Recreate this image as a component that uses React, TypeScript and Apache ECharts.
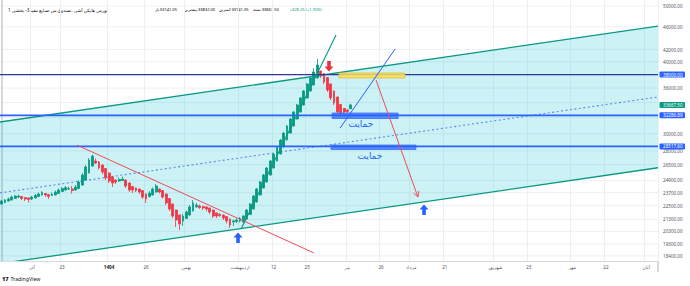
import React, { useEffect, useRef } from "react";
import * as echarts from "echarts";

const FONT = '"Noto Sans", "DejaVu Sans", sans-serif';
const UP = "#089981";
const DOWN = "#f23645";
const BLUE = "#2962ff";
const TEXT = "#50535e";

const SLOT_COUNT = 196;

// Heikin-Ashi daily candles
const haOpen = [22650,22780,22920,23010,23150,23290,23340,23240,23200,23100,23200,23340,23480,23620,23520,23430,23480,23620,23810,23950,24050,24050,23950,24090,24430,24930,25640,26360,26900,26790,26470,26100,25640,25230,24930,24830,24880,24930,24630,24290,24140,24050,23900,23570,23340,23480,23760,24050,23900,23570,23150,22650,22110,21670,21160,21370,21670,22020,22380,22470,22420,22380,22290,22110,21850,21710,21670,21540,21330,21070,21110,21160,21070,21330,21710,22200,22830,23480,24140,24730,25430,26150,26900,27660,28450,29250,30080,30940,31820,32720,33650,34610,35590,36450,37490,38550,38170,37560,36600,35590,34740,33720,33180,32980,33141.05];
const haClose = [22920,23010,23100,23290,23380,23380,23150,23100,23060,23290,23430,23570,23710,23480,23340,23570,23760,23950,24090,24190,24090,23900,24240,24730,25430,26260,27000,27440,26680,26150,25740,25130,24830,24630,24730,24980,25030,24340,23950,23950,23900,23760,23290,23100,23660,24050,24340,23760,23290,22740,22200,21580,21240,20900,21580,21930,22380,22740,22560,22330,22290,22200,21930,21580,21580,21630,21410,21160,20820,21160,21240,21370,21580,22110,22650,23380,24050,24730,25430,26150,26900,27660,28450,29250,30080,30940,31820,32720,33650,34610,35590,36600,37490,38400,39490,37790,36890,35730,34610,33920,32720,32590,32720,32790,33667.5];
const haLow = [22560,22740,22870,22970,23100,23200,23010,22920,22780,23010,23150,23290,23430,23290,23100,23380,23430,23570,23760,23900,23950,23620,23900,24050,24390,24880,25580,26310,26580,26000,25530,24930,24630,24240,24530,24730,24830,24140,23760,23660,23760,23570,23100,22740,23240,23430,23710,23620,23150,22560,22020,21410,20660,20410,20740,21330,21630,21980,22330,22200,22110,22020,21760,21410,21410,21500,21240,20950,20570,20740,20990,21030,20990,21280,21670,22150,22780,23430,24090,24680,25380,26100,26840,27600,28390,29200,30020,30880,31750,32660,33580,34540,35520,36380,37410,37490,36600,35450,34330,33650,32460,32200,32460,32590,33141.05];
const haHigh = [23010,23100,23240,23430,23480,23520,23380,23290,23240,23380,23570,23710,23850,23660,23570,23710,23900,24090,24240,24340,24290,24340,24430,24880,25640,26470,27220,27600,27170,26900,26520,26150,25690,25280,24980,25180,25280,24980,24680,24340,24190,24090,23950,23620,23850,24190,24530,24090,23950,23620,23200,22690,22150,21710,21760,22060,22560,23010,22740,22600,22470,22420,22330,22150,21890,21850,21710,21580,21370,21280,21370,21500,21670,22200,22740,23480,24140,24830,25530,26260,27000,27770,28560,29370,30210,31060,31940,32850,33790,34740,35730,36750,37790,39020,40450,38630,38240,37640,36670,35660,34810,33790,33250,33050,33832];

// time axis ticks (slot index -> label)
const xTickIndex = [9, 18, 32, 43, 55, 71, 81, 91, 103, 113, 122, 132, 147, 157, 170, 180, 192];
const xTickLabel = ["آذر", "23", "1404", "26", "بهمن", "اردیبهشت", "12", "25", "تیر", "26", "مرداد", "21", "شهریور", "23", "مهر", "22", "آبان"];

// price scale ticks
const yTickPrice = [50000, 46000, 42000, 40000, 38000, 36000, 34000, 32000, 30000, 28000, 26500, 24900, 23700, 22500, 21300, 20300, 19300, 18400];
const yTickHidden = [34000, 32000, 38000];
const yAxisMinPrice = 18030;
const yAxisMaxPrice = 51215;

// horizontal levels and last price
const levelPrice = [38000, 32286.89, 28517.6];
const lastPrice = 33667.5;

// parallel channel (slot index, price)
const channelX = [-0.5, 195.5];
const channelUpper = [31440, 46140];
const channelMid = [23680, 34750];
const channelLower = [17840, 26180];

// trend lines
const redTrendX = [22.4, 93.0];
const redTrendP = [28670, 18620];
const rallyTrendX = [71.3, 99.6];
const rallyTrendP = [20490, 44520];
const blueTrendX = [100.8, 117.2];
const blueTrendP = [30690, 42100];
const arrowTrendX = [111.5, 124.0];
const arrowTrendP = [37190, 23290];

// zones
const yellowBoxX = [100.5, 120.1];
const yellowBoxP = [38240, 37490];
const supportBox1X = [98.4, 118.1];
const supportBox1P = [32590, 31880];
const supportBox2X = [98.1, 123.4];
const supportBox2P = [28670, 28170];
const supportLabelX = [107.0, 109.7];
const supportLabelP = [31250, 27550];
const supportText = "حمایت";

// arrow marks
const downArrowX = [97.5];
const downArrowP = [39330];
const upArrowX = [70.4, 125.8];
const upArrowP = [19770, 22110];

// legend
const legendTitle = "بورس هایکن آشی ،صندوق س صنایع مفید3- بخشی 1";
const legendFields = ["باز", "بیشترین", "کمترین", "بسته"];
const legendValues = ["33141.05", "33832.00", "33141.05", "33667.50"];
const legendChange = "+626.25 (+1.90%)";

const ln = Math.log;

function App() {
  const ref = useRef<HTMLDivElement>(null);

  useEffect(() => {
    const chart = echarts.init(ref.current as HTMLDivElement, null, { renderer: "svg" });
    const tickSet = new Set(xTickIndex);
    const labelMap: Record<number, string> = {};
    xTickIndex.forEach((idx, k) => (labelMap[idx] = xTickLabel[k]));
    const categories = Array.from({ length: SLOT_COUNT }, (_, i) => String(i));

    const candleData = haOpen.map((o, i) => [ln(o), ln(haClose[i]), ln(haLow[i]), ln(haHigh[i])]);

    const gridRender = (params: any, api: any) => {
      const cs = params.coordSys;
      return {
        type: "group",
        children: yTickPrice.map((p) => {
          const y = api.coord([0, ln(p)])[1];
          return {
            type: "line",
            shape: { x1: cs.x, y1: y, x2: cs.x + cs.width, y2: y },
            style: { stroke: "#eceff4", lineWidth: 1 },
          };
        }),
      };
    };

    const seg = (api: any, xs: number[], ps: number[]) => {
      const a = api.coord([xs[0], ln(ps[0])]);
      const b = api.coord([xs[1], ln(ps[1])]);
      return { x1: a[0], y1: a[1], x2: b[0], y2: b[1] };
    };

    const clipOf = (cs: any) => ({
      type: "rect",
      shape: { x: cs.x, y: cs.y, width: cs.width, height: cs.height },
    });

    const channelRender = (params: any, api: any) => {
      const cs = params.coordSys;
      const pt = (x: number, p: number) => api.coord([x, ln(p)]);
      const u0 = pt(channelX[0], channelUpper[0]);
      const u1 = pt(channelX[1], channelUpper[1]);
      const l0 = pt(channelX[0], channelLower[0]);
      const l1 = pt(channelX[1], channelLower[1]);
      return {
        type: "group",
        clipPath: clipOf(cs),
        children: [
          { type: "polygon", shape: { points: [u0, u1, l1, l0] }, style: { fill: "rgba(0,188,212,0.2)" } },
          { type: "line", shape: seg(api, channelX, channelMid), style: { stroke: "#5b86f0", lineWidth: 1.1, lineDash: [2, 2.5] } },
          { type: "line", shape: seg(api, channelX, channelUpper), style: { stroke: UP, lineWidth: 1.3 } },
          { type: "line", shape: seg(api, channelX, channelLower), style: { stroke: UP, lineWidth: 1.3 } },
        ],
      };
    };

    const arrowPoly = (cx: number, cy: number, dir: number) => {
      const pts = [
        [0, -5.5],
        [4.5, -0.5],
        [1.8, -0.5],
        [1.8, 5],
        [-1.8, 5],
        [-1.8, -0.5],
        [-4.5, -0.5],
      ];
      return pts.map(([x, y]) => [cx + x, cy + y * dir]);
    };

    const drawRender = (params: any, api: any) => {
      const cs = params.coordSys;
      const children: any[] = [];
      const box = (xs: number[], ps: number[], fill: string, stroke: string) => {
        const a = api.coord([xs[0], ln(ps[0])]);
        const b = api.coord([xs[1], ln(ps[1])]);
        children.push({
          type: "rect",
          shape: { x: a[0], y: a[1], width: b[0] - a[0], height: b[1] - a[1] },
          style: { fill, stroke, lineWidth: 0.8 },
        });
      };
      levelPrice.forEach((p, k) => {
        const y = api.coord([0, ln(p)])[1];
        children.push({
          type: "line",
          shape: { x1: cs.x, y1: y, x2: cs.x + cs.width, y2: y },
          style: { stroke: k === 0 ? "#2b3a9e" : BLUE, lineWidth: k === 0 ? 1.1 : 1.8 },
        });
      });
      box(yellowBoxX, yellowBoxP, "rgba(250,222,90,0.85)", "#e6bd2e");
      box(supportBox1X, supportBox1P, "rgba(41,98,255,0.72)", "#3b6ef5");
      box(supportBox2X, supportBox2P, "rgba(41,98,255,0.72)", "#3b6ef5");
      children.push({ type: "line", shape: seg(api, redTrendX, redTrendP), style: { stroke: "#f04a55", lineWidth: 1 } });
      children.push({ type: "line", shape: seg(api, rallyTrendX, rallyTrendP), style: { stroke: UP, lineWidth: 1.1 } });
      children.push({ type: "line", shape: seg(api, blueTrendX, blueTrendP), style: { stroke: BLUE, lineWidth: 1 } });
      const ar = seg(api, arrowTrendX, arrowTrendP);
      children.push({ type: "line", shape: ar, style: { stroke: "#f04a55", lineWidth: 1 } });
      const ang = Math.atan2(ar.y2 - ar.y1, ar.x2 - ar.x1);
      const len = 6;
      const arm = (s: number) => [ar.x2 - len * Math.cos(ang + s), ar.y2 - len * Math.sin(ang + s)];
      children.push({
        type: "polyline",
        shape: { points: [arm(0.5), [ar.x2, ar.y2], arm(-0.5)] },
        style: { stroke: "#f04a55", lineWidth: 1, fill: null },
      });
      supportLabelX.forEach((x, k) => {
        const c = api.coord([x, ln(supportLabelP[k])]);
        children.push({
          type: "text",
          x: c[0],
          y: c[1],
          style: { text: supportText, fill: BLUE, fontSize: 9, fontFamily: FONT, align: "center", verticalAlign: "middle" },
        });
      });
      downArrowX.forEach((x, k) => {
        const c = api.coord([x, ln(downArrowP[k])]);
        children.push({ type: "polygon", shape: { points: arrowPoly(c[0], c[1], -1) }, style: { fill: "#e8323c" } });
      });
      upArrowX.forEach((x, k) => {
        const c = api.coord([x, ln(upArrowP[k])]);
        children.push({ type: "polygon", shape: { points: arrowPoly(c[0], c[1], 1) }, style: { fill: BLUE } });
      });
      return { type: "group", clipPath: clipOf(cs), children };
    };

    const labelRender = (params: any, api: any) => {
      const cs = params.coordSys;
      const right = cs.x + cs.width;
      const children: any[] = [];
      yTickPrice
        .filter((p) => yTickHidden.indexOf(p) < 0)
        .forEach((p) => {
          const y = api.coord([0, ln(p)])[1];
          children.push({
            type: "text",
            x: right + 5,
            y,
            style: { text: p.toFixed(2), fill: TEXT, fontSize: 4.6, fontFamily: FONT, align: "left", verticalAlign: "middle" },
          });
        });
      const tag = (p: number, color: string) => {
        const y = api.coord([0, ln(p)])[1];
        children.push({ type: "rect", shape: { x: right + 1.5, y: y - 3, width: 25.5, height: 6, r: 1 }, style: { fill: color } });
        children.push({
          type: "text",
          x: right + 5,
          y,
          style: { text: p.toFixed(2), fill: "#ffffff", fontSize: 4.6, fontFamily: FONT, align: "left", verticalAlign: "middle" },
        });
      };
      tag(levelPrice[0], BLUE);
      tag(lastPrice, UP);
      tag(levelPrice[1], BLUE);
      tag(levelPrice[2], BLUE);
      return { type: "group", children };
    };

    const pairX = [155, 184, 219, 253];
    const legendRich = {
      l: { fontSize: 4, color: "#131722", fontFamily: FONT, padding: [0, 0.6, 0, 0] },
      v: { fontSize: 4, color: UP, fontFamily: FONT },
    };
    const graphics: any[] = [
      { type: "text", left: 8, top: 7, style: { text: legendTitle, fill: "#131722", fontSize: 4.6, fontFamily: FONT } },
      { type: "text", left: 290, top: 7, style: { text: legendChange, fill: UP, fontSize: 4, fontFamily: FONT } },
      { type: "text", left: 10.5, top: 276, style: { text: "TradingView", fill: "#131722", fontSize: 5.2, fontFamily: FONT } },
      { type: "text", left: 2, top: 275.5, style: { text: "17", fill: "#131722", fontSize: 5.6, fontWeight: 900, fontFamily: FONT } },
      { type: "line", shape: { x1: 658, y1: 261, x2: 658, y2: 272 }, style: { stroke: "#d6d8dd", lineWidth: 2 } },
    ];
    legendFields.forEach((f, k) => {
      graphics.push({
        type: "text",
        left: pairX[k],
        top: 7,
        style: { text: "{l|" + f + "}{v|" + legendValues[k] + "}", rich: legendRich, fontSize: 4, fontFamily: FONT },
      });
    });

    chart.setOption({
      animation: false,
      backgroundColor: "#ffffff",
      textStyle: { fontFamily: FONT },
      grid: { left: 0, right: 32, top: 0, bottom: 25 },
      xAxis: [
        {
          type: "category",
          data: categories,
          boundaryGap: true,
          axisLine: { show: true, lineStyle: { color: "#d6d8dd", width: 1 } },
          axisTick: { show: false },
          axisLabel: {
            interval: (i: number) => tickSet.has(i),
            formatter: (_v: string, i: number) => (labelMap[i] === "1404" ? "{b|1404}" : labelMap[i] || ""),
            fontSize: 4.6,
            color: TEXT,
            margin: 3,
            fontFamily: FONT,
            rich: { b: { fontSize: 4.6, fontWeight: "bold", color: "#131722", fontFamily: FONT } },
          },
          splitLine: { show: true, interval: (i: number) => tickSet.has(i), lineStyle: { color: "#eceff4", width: 1 } },
        },
        { type: "value", min: -0.5, max: SLOT_COUNT - 0.5, show: false },
      ],
      yAxis: {
        type: "value",
        position: "right",
        min: ln(yAxisMinPrice),
        max: ln(yAxisMaxPrice),
        axisLabel: { show: false },
        axisTick: { show: false },
        splitLine: { show: false },
        axisLine: { show: true, lineStyle: { color: "#d6d8dd", width: 2 } },
      },
      graphic: graphics,
      series: [
        { type: "custom", xAxisIndex: 1, yAxisIndex: 0, z: 0, silent: true, data: [[0, 10]], renderItem: gridRender },
        { type: "custom", xAxisIndex: 1, yAxisIndex: 0, z: 1, silent: true, data: [[0, 10]], renderItem: channelRender },
        {
          type: "candlestick",
          xAxisIndex: 0,
          yAxisIndex: 0,
          z: 2,
          barWidth: 2.3,
          data: candleData,
          itemStyle: { color: UP, color0: DOWN, borderColor: UP, borderColor0: DOWN, borderWidth: 0.8 },
        },
        { type: "custom", xAxisIndex: 1, yAxisIndex: 0, z: 3, silent: true, data: [[0, 10]], renderItem: drawRender },
        { type: "custom", xAxisIndex: 1, yAxisIndex: 0, z: 4, silent: true, data: [[0, 10]], renderItem: labelRender },
      ],
    });
    return () => chart.dispose();
  }, []);

  return (
    <div
      ref={ref}
      style={{ position: "fixed", left: 0, top: 0, width: 690, height: 286, background: "#ffffff" }}
    />
  );
}

export default App;
